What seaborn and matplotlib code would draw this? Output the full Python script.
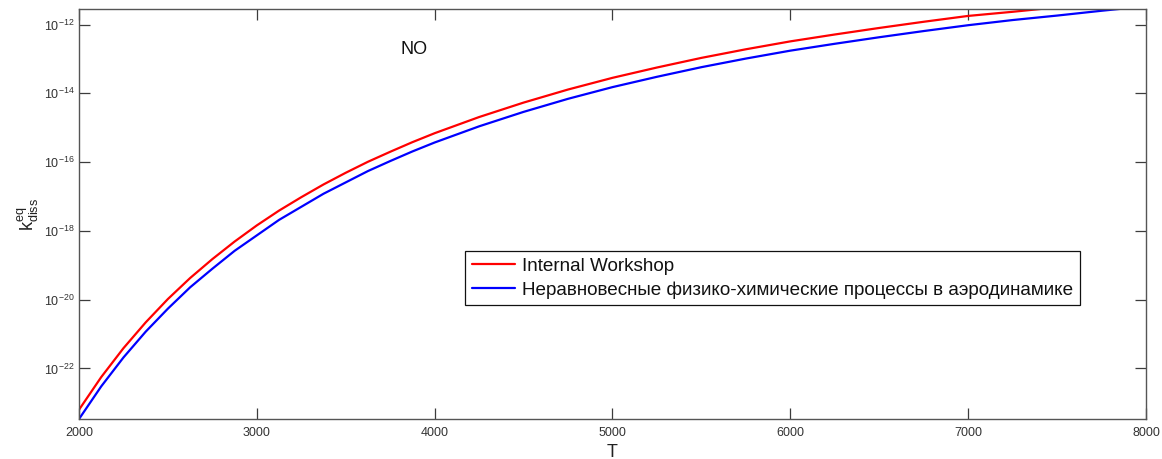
import numpy as np
import pandas as pd
import seaborn as sns
import matplotlib.pyplot as plt
from matplotlib.ticker import FixedLocator, FuncFormatter, NullLocator

# Temperature grid, K
temperature = [2000, 2125, 2250, 2375, 2500, 2625, 2750, 2875, 3000, 3125,
               3250, 3375, 3500, 3625, 3750, 3875, 4000, 4250, 4500, 4750,
               5000, 5250, 5500, 5750, 6000, 6250, 6500, 6750, 7000, 7250,
               7500, 7750, 8000]

# log10 of the equilibrium dissociation rate constant for NO
log_k_workshop = [-23.20, -22.25, -21.41, -20.66, -19.98, -19.37, -18.82, -18.31,
                  -17.84, -17.41, -17.02, -16.65, -16.31, -15.99, -15.70, -15.42,
                  -15.16, -14.69, -14.27, -13.89, -13.55, -13.25, -12.97, -12.72,
                  -12.49, -12.29, -12.10, -11.92, -11.75, -11.63, -11.50, -11.36,
                  -11.23]
log_k_book = [-23.47, -22.52, -21.68, -20.93, -20.26, -19.64, -19.10, -18.58,
              -18.13, -17.68, -17.30, -16.92, -16.59, -16.26, -15.97, -15.69,
              -15.43, -14.96, -14.54, -14.16, -13.82, -13.52, -13.24, -12.99,
              -12.76, -12.56, -12.37, -12.19, -12.02, -11.87, -11.74, -11.60,
              -11.47]

series_names = ["Internal Workshop",
                "Неравновесные физико-химические процессы в аэродинамике"]
series_colors = ["#ff0000", "#0000ff"]

x_ticks = [2000, 3000, 4000, 5000, 6000, 7000, 8000]
y_tick_exponents = [-22, -20, -18, -16, -14, -12]

df = pd.concat([
    pd.DataFrame({"T": temperature, "k": np.power(10.0, log_k_workshop), "src": series_names[0]}),
    pd.DataFrame({"T": temperature, "k": np.power(10.0, log_k_book), "src": series_names[1]}),
])

sns.set_style("ticks")
plt.rcParams["font.family"] = ["Liberation Sans", "DejaVu Sans"]
plt.rcParams["mathtext.fontset"] = "custom"
plt.rcParams["mathtext.rm"] = "Liberation Sans"
plt.rcParams["mathtext.it"] = "Liberation Sans"

axis_gray = "#3c3c3c"

fig = plt.figure(figsize=(11.62, 4.59), dpi=100)
fig.patch.set_facecolor("white")
ax = fig.add_axes([0.068, 0.0871, 0.9182, 0.8932])

sns.lineplot(data=df, x="T", y="k", hue="src", palette=series_colors,
             hue_order=series_names, linewidth=1.6, ax=ax, legend=False,
             estimator=None, sort=False)

ax.set_yscale("log")
ax.set_xlim(2000, 8000)
ax.set_ylim(10 ** -23.47, 10 ** -11.55)

ax.xaxis.set_major_locator(FixedLocator(x_ticks))
ax.yaxis.set_major_locator(FixedLocator([10.0 ** e for e in y_tick_exponents]))
ax.xaxis.set_minor_locator(NullLocator())
ax.yaxis.set_minor_locator(NullLocator())
ax.yaxis.set_major_formatter(FuncFormatter(
    lambda v, _: r"$\mathregular{10^{%d}}$" % int(round(np.log10(v)))))

ax.tick_params(axis="both", which="major", direction="in", length=7.7, width=0.9,
               top=True, right=True, labelsize=9, colors=axis_gray,
               labelcolor="#333333")
ax.tick_params(axis="x", pad=6)
ax.tick_params(axis="y", pad=3)
for side in ["left", "right", "top", "bottom"]:
    ax.spines[side].set_visible(True)
    ax.spines[side].set_color("#555555")
    ax.spines[side].set_linewidth(1.0)

ax.set_xlabel("T", fontsize=13, color="#222222", labelpad=3)
ax.set_ylabel(r"$\mathregular{k_{diss}^{eq}}$", fontsize=13, color="#222222", labelpad=2)

ax.text(3810, 10 ** -12.74, "NO", fontsize=13, ha="left", va="center", color="#111111")

handles = [plt.Line2D([], [], color=c, linewidth=1.6) for c in series_colors]
leg = ax.legend(handles, series_names, loc="upper left",
                bbox_to_anchor=(0.362, 0.41), fontsize=13.6, frameon=True,
                fancybox=False, framealpha=1, edgecolor="#111111",
                handlelength=2.3, handletextpad=0.35, borderpad=0.35,
                labelspacing=0.35, borderaxespad=0)
leg.get_frame().set_linewidth(0.9)
for t in leg.get_texts():
    t.set_color("#111111")

fig.savefig("out.png", dpi=100, facecolor="white")
